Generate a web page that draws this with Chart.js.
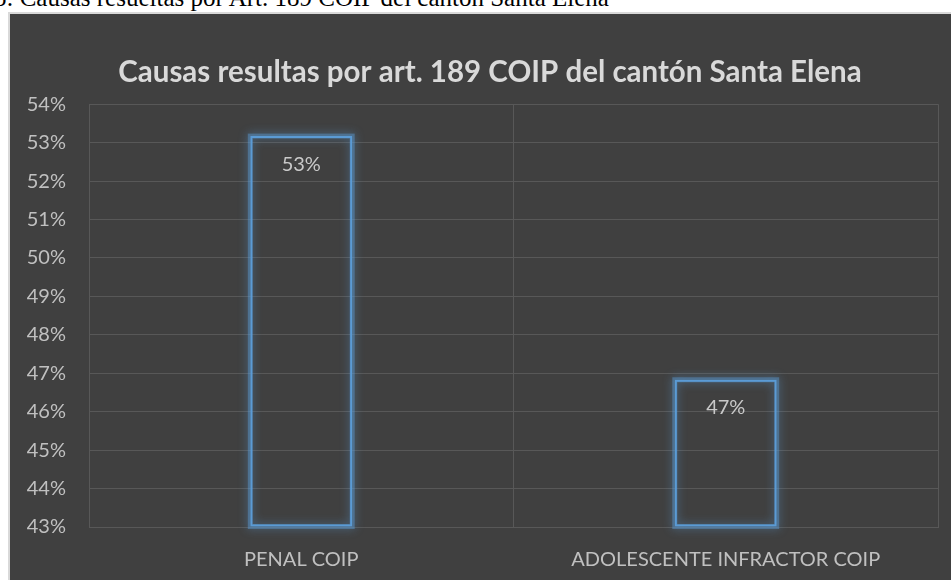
<!DOCTYPE html>
<html>
<head>
<meta charset="utf-8">
<script src="https://cdn.jsdelivr.net/npm/chart.js@4.4.1/dist/chart.umd.min.js"></script>
<style>
  body { margin: 0; background: #ffffff; overflow: hidden; width: 951px; height: 580px; position: relative; }
  #caption {
    position: absolute; left: -6px; top: -14px; white-space: nowrap;
    font-family: "Liberation Serif", serif; font-size: 25px; line-height: 24px; color: #000;
  }
  #box {
    position: absolute; left: 8px; top: 12px; width: 960px; height: 600px;
    background: #404040; border-top: 2px solid #d9d9d9; border-left: 2px solid #d9d9d9;
  }
  #wrap { position: absolute; left: 0; top: 0; width: 960px; height: 560px; }
</style>
</head>
<body>
<div id="caption">3: Causas resueltas por Art. 189 COIP del cantón Santa Elena</div>
<div id="box">
  <div id="wrap"><canvas id="chart"></canvas></div>
</div>
<script>
const categories = ["PENAL COIP", "ADOLESCENTE INFRACTOR COIP"];
const percentages = [53.17, 46.83];
const yMin = 43;
const yMax = 54;

// soft blue halo round each bar outline
const glowPlugin = {
  id: "glow",
  beforeDatasetsDraw(chart) {
    const ctx = chart.ctx;
    chart.getDatasetMeta(0).data.forEach((bar) => {
      const left = bar.x - bar.width / 2;
      const h = bar.base - bar.y;
      ctx.save();
      ctx.shadowColor = "rgba(91,155,213,1)";
      ctx.shadowBlur = 10;
      ctx.strokeStyle = "rgba(91,155,213,0.45)";
      ctx.lineWidth = 5;
      ctx.strokeRect(left, bar.y, bar.width, h);
      ctx.restore();
    });
  },
};

const labelPlugin = {
  id: "barLabels",
  afterDatasetsDraw(chart) {
    const ctx = chart.ctx;
    ctx.save();
    ctx.font = "20px Lato";
    ctx.fillStyle = "#c9c9c9";
    ctx.textAlign = "center";
    ctx.textBaseline = "middle";
    chart.getDatasetMeta(0).data.forEach((bar, i) => {
      ctx.fillText(Math.round(percentages[i]) + "%", bar.x, bar.y + 28);
    });
    ctx.restore();
  },
};

const ctx = document.getElementById("chart");
const chart = new Chart(ctx, {
  type: "bar",
  data: {
    labels: categories,
    datasets: [
      {
        data: percentages,
        base: yMin,
        backgroundColor: "rgba(0,0,0,0)",
        borderColor: "#5b9bd5",
        borderWidth: 2,
        borderSkipped: false,
        barPercentage: 0.24,
        categoryPercentage: 1,
      },
    ],
  },
  options: {
    responsive: true,
    maintainAspectRatio: false,
    animation: false,
    layout: { padding: 0 },
    plugins: {
      legend: { display: false },
      tooltip: { enabled: false },
      title: {
        display: true,
        text: "Causas resultas por art. 189 COIP del cantón Santa Elena",
        color: "#d9d9d9",
        font: { family: "Lato", size: 29.5, weight: "bold" },
        padding: { top: 40.9, bottom: 13.9 },
      },
    },
    scales: {
      x: {
        grid: { color: "#585858", offset: true, drawTicks: false },
        border: { color: "#585858" },
        ticks: { color: "#c0c0c0", font: { family: "Lato", size: 20 }, padding: 21 },
        afterFit: (scale) => { scale.height = 47; },
      },
      y: {
        min: yMin,
        max: yMax,
        grid: { color: "#585858", drawTicks: false },
        border: { color: "#585858" },
        ticks: {
          stepSize: 1,
          color: "#c0c0c0",
          font: { family: "Lato", size: 20 },
          padding: 23,
          callback: (v) => v + "%",
        },
        afterFit: (scale) => { scale.width = 79; },
      },
      // empty right-hand space so the title stays centred on the whole box
      yRight: {
        position: "right",
        min: yMin,
        max: yMax,
        grid: { display: false, drawTicks: false },
        border: { display: false },
        ticks: { display: false },
        afterFit: (scale) => { scale.width = 32; },
      },
    },
  },
  plugins: [glowPlugin, labelPlugin],
});
</script>
</body>
</html>
